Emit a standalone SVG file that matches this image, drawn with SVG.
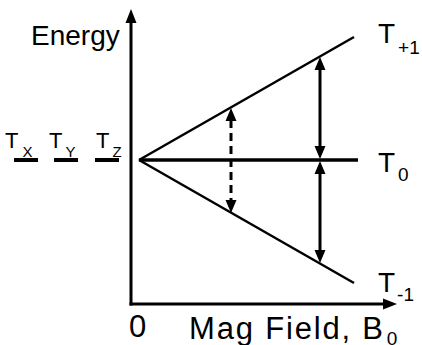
<svg xmlns="http://www.w3.org/2000/svg" width="422" height="345" viewBox="0 0 422 345">
<style>
text{font-family:"Liberation Sans",Arial,sans-serif;fill:#000}
.big{font-size:28px}
.xl{font-size:31px}
.sub{font-size:19px}
.lsub{font-size:15px}
.lt{font-size:22px}
.ax{stroke:#000;stroke-width:3;fill:none}
.lv{stroke:#000;stroke-width:2.5;fill:none}
.t0{stroke:#000;stroke-width:3.5;fill:none}
.ar{stroke:#000;stroke-width:3;fill:none}
.da{stroke:#000;stroke-width:3;fill:none;stroke-dasharray:8 5}
.hd{fill:#000}
.bar{stroke:#000;stroke-width:4}
</style>
<rect width="422" height="345" fill="#fff"/>
<g id="axes">
<line class="ax" x1="131" y1="305.5" x2="131" y2="22"/>
<polygon class="hd" points="131,9 125.5,23 136.5,23"/>
<line class="ax" x1="129.5" y1="304" x2="384" y2="304"/>
<polygon class="hd" points="397,304 383,298.5 383,309.5"/>
<text id="energy" class="big" x="31" y="45">Energy</text>
<text id="zero" class="xl" x="129" y="337">0</text>
<text id="xlabel" class="xl" x="189" y="339"><tspan textLength="194" lengthAdjust="spacing">Mag Field, B</tspan><tspan class="sub" dx="2" dy="6">0</tspan></text>
</g>
<g id="zerofield">
<line class="bar" x1="14" y1="160" x2="38" y2="160"/>
<line class="bar" x1="54" y1="160" x2="78" y2="160"/>
<line class="bar" x1="95" y1="160" x2="119" y2="160"/>
<text class="lt" x="5" y="148">T<tspan class="lsub" dx="4" dy="9">X</tspan></text>
<text class="lt" x="49" y="148">T<tspan class="lsub" dx="3" dy="9">Y</tspan></text>
<text class="lt" x="96" y="148">T<tspan class="lsub" dx="3" dy="9">Z</tspan></text>
</g>
<g id="Tplus">
<line class="lv" x1="139" y1="160" x2="354" y2="37"/>
<text class="big" x="378" y="43">T<tspan class="sub" dx="3" dy="11">+1</tspan></text>
</g>
<g id="T0">
<line class="t0" x1="139" y1="160" x2="358" y2="160"/>
<text class="big" x="378" y="172">T<tspan class="sub" dx="3" dy="9">0</tspan></text>
</g>
<g id="Tminus">
<line class="lv" x1="139" y1="160" x2="354" y2="283"/>
<text class="big" x="378" y="292">T<tspan class="sub" dx="2" dy="9">-1</tspan></text>
</g>
<g id="connectors">
<line class="da" x1="231" y1="120" x2="231" y2="201"/>
<polygon class="hd" points="231,108 225.5,121 236.5,121"/>
<polygon class="hd" points="231,213 225.5,200 236.5,200"/>
<line class="ar" x1="320" y1="68" x2="320" y2="148"/>
<polygon class="hd" points="320,57 314.5,70 325.5,70"/>
<polygon class="hd" points="320,159 314.5,146 325.5,146"/>
<line class="ar" x1="320" y1="172" x2="320" y2="252"/>
<polygon class="hd" points="320,161 314.5,174 325.5,174"/>
<polygon class="hd" points="320,263 314.5,250 325.5,250"/>
</g>
</svg>
